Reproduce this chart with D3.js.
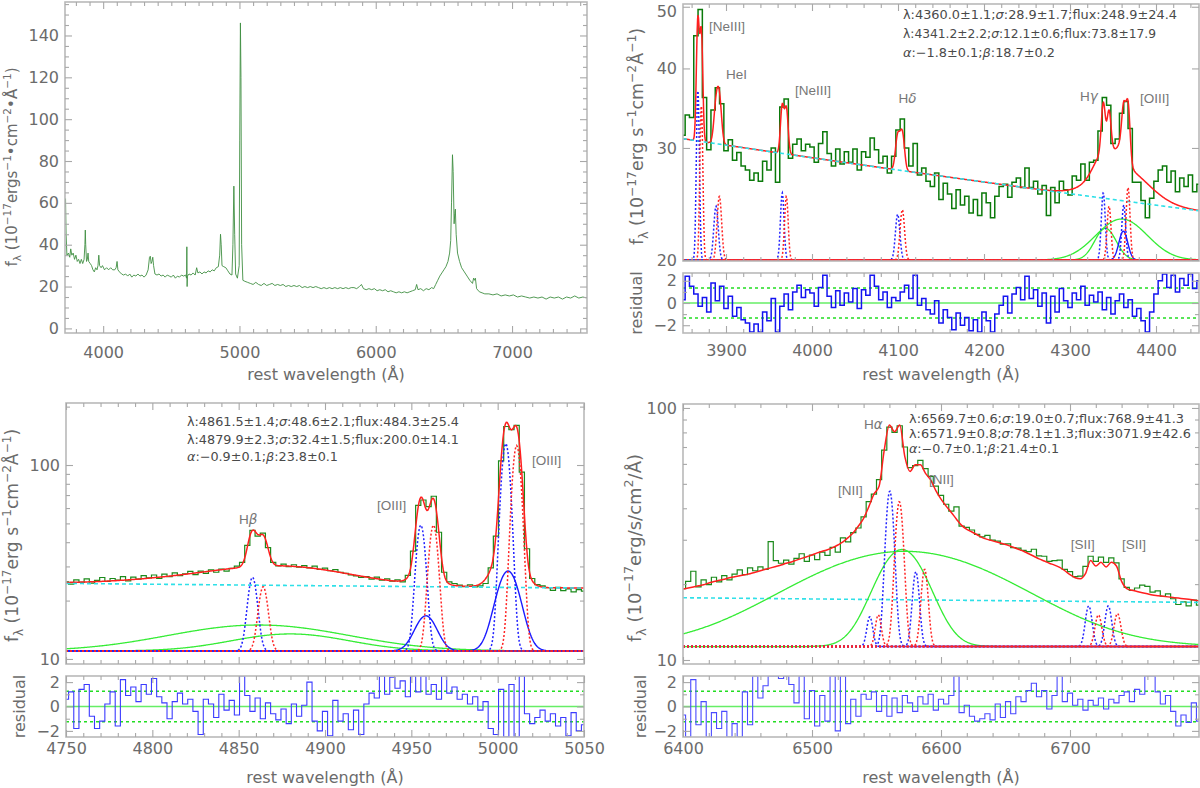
<!DOCTYPE html>
<html><head><meta charset="utf-8">
<script src="https://cdn.jsdelivr.net/npm/d3@7/dist/d3.min.js"></script>
<style>html,body{margin:0;padding:0;background:#fff}svg{display:block}</style>
</head><body>
<svg id="chart" width="1200" height="788"></svg>
<script>
// ================= DATA =================
// Overview spectrum [wavelength, flux]
const overviewSpectrum = [[3720,58],[3724,62],[3728,45],[3734,35],[3745,36],[3755,34],[3762,38],[3770,35],[3780,36],[3790,33],[3800,35],[3810,32],[3820,33],[3830,31],[3840,33],[3850,31],[3860,33],[3866,40],[3869,47],[3872,40],[3878,32],[3884,33],[3889,36],[3894,32],[3905,31],[3915,30],[3925,28],[3935,27],[3945,29],[3955,28],[3962,30],[3968,35],[3974,30],[3985,29],[3995,30],[4010,28],[4025,29],[4040,28],[4055,29],[4070,28],[4085,28],[4095,29],[4102,32],[4108,28],[4120,27],[4135,26],[4150,25.5],[4165,26],[4180,25],[4195,26],[4210,24.5],[4225,25.5],[4240,25],[4255,26],[4270,25],[4285,25.5],[4300,24.5],[4315,25.5],[4330,28],[4340,34],[4346,34.5],[4352,31],[4358,32],[4364,34],[4370,30],[4380,26],[4395,25.5],[4410,26],[4425,25],[4440,25.5],[4455,24.5],[4470,25.5],[4485,25],[4500,24.5],[4515,25.5],[4530,24],[4545,25],[4560,24.5],[4575,25.5],[4590,25],[4605,25.5],[4612,24],[4614,39],[4616,20],[4618,25],[4630,26],[4645,25.5],[4660,26.5],[4675,25.5],[4686,29],[4695,26.5],[4710,27],[4725,26],[4740,27],[4755,26.5],[4770,27.5],[4785,27],[4800,28],[4815,27.5],[4830,29],[4845,29.5],[4855,35],[4861,45],[4866,40],[4872,30],[4885,29.5],[4900,29],[4915,27.5],[4930,26],[4945,25.5],[4952,40],[4959,68],[4965,45],[4972,26],[4985,24],[4998,30],[5002,90],[5007,146],[5011,120],[5016,40],[5025,23],[5040,22.5],[5060,22],[5080,21.5],[5100,21],[5120,22],[5140,21],[5160,20.5],[5180,21.5],[5200,20.5],[5220,21],[5240,21.5],[5260,20.5],[5280,21],[5300,20.5],[5320,21],[5340,20],[5360,20.5],[5380,20],[5400,20.5],[5420,20],[5440,20.5],[5460,19.5],[5480,20],[5500,19.5],[5520,20],[5540,19.5],[5560,20],[5580,19.5],[5600,19],[5620,19.5],[5640,19],[5660,19.5],[5680,19],[5700,19.5],[5720,19],[5740,19.5],[5760,19],[5780,19.5],[5800,19],[5820,19.5],[5840,19.5],[5860,19],[5880,20],[5895,21],[5910,19],[5930,18.5],[5950,19],[5970,18.5],[5990,19],[6010,18],[6030,18.5],[6050,18],[6070,18.5],[6090,17.5],[6110,18],[6130,17.5],[6150,17],[6170,17.5],[6190,17],[6210,17.5],[6230,17],[6250,17.5],[6270,18],[6290,18.5],[6300,21],[6310,18.5],[6330,19],[6350,18],[6370,19],[6390,18.5],[6410,19.5],[6425,19],[6440,21],[6455,23],[6470,25],[6485,26.5],[6500,28],[6515,29.5],[6530,32],[6542,36],[6550,42],[6556,60],[6563,83],[6568,75],[6575,50],[6580,55],[6584,57],[6590,45],[6600,36],[6615,32],[6630,29],[6650,27],[6670,25],[6690,23],[6710,21.5],[6718,24],[6725,23],[6731,24],[6740,19],[6760,17.5],[6780,17],[6800,16.5],[6830,16.5],[6860,16],[6890,16.5],[6920,15.5],[6950,16],[6980,15.5],[7010,16],[7040,15],[7070,15.5],[7100,15],[7130,14.5],[7160,15],[7190,14.5],[7220,15],[7250,14],[7280,15],[7310,14.5],[7340,15],[7370,14],[7400,15],[7430,14.5],[7460,15.5],[7490,14.5],[7520,15],[7550,14.5]];
const overviewXTicks = [4000,5000,6000,7000];
const overviewYTicks = [0,20,40,60,80,100,120,140];

// Hgamma region (3850-4450), 5 A bins
const hgStart = 3850, hgStep = 5;
const hgFlux = [31.4,33.8,33.5,45.0,49.5,36.0,29.8,34.4,37.3,35.2,
29.7,30.9,28.7,29.5,28.1,27.7,26.7,27.4,26.6,28.6,
27.7,30.0,26.5,34.8,35.8,28.9,30.4,31.0,29.7,30.4,
30.1,28.5,30.5,31.8,29.4,28.1,29.9,28.3,29.6,28.5,
29.9,27.7,29.6,29.0,31.1,29.8,28.4,29.1,27.4,29.1,
32.0,33.3,30.0,28.1,30.5,27.2,27.9,26.6,26.1,27.4,
24.9,26.4,25.4,24.1,25.8,24.4,25.2,23.7,24.9,23.5,
25.5,24.6,23.3,25.2,26.1,26.3,25.1,26.5,26.9,26.0,
27.9,26.0,26.6,25.4,26.2,23.5,26.0,24.6,26.6,25.8,
25.3,27.1,26.7,28.3,26.7,28.5,28.7,31.9,36.0,35.0,
30.5,31.0,34.0,35.5,32.2,26.5,26.5,24.8,23.3,25.0,
26.6,27.7,28.1,26.5,27.6,25.6,26.9,26.1,27.2,25.6,
26.3];
const hgResid = [0.3,2.4,1.5,0.8,-0.3,0.5,-0.8,1.8,0.2,1.5,
-0.5,0.6,-1.2,-0.4,-1.5,-1.8,-2.6,-1.9,-2.6,-0.8,
-1.6,0.4,-2.6,-0.3,0.8,-0.6,1.0,1.6,0.5,1.2,
0.9,-0.3,1.4,2.5,0.6,-0.4,1.1,-0.2,0.9,0.1,
1.3,-0.5,1.2,0.7,2.5,1.5,0.3,1.0,-0.4,0.5,
0.2,1.0,1.6,0.4,2.5,-0.2,0.4,-0.6,-1.0,0.2,
-1.8,-0.6,-1.3,-2.4,-0.9,-2.0,-1.3,-2.5,-1.5,-2.6,
-0.8,-1.6,-2.6,-1.0,-0.2,0.6,-0.9,0.8,1.4,0.3,
2.4,0.4,1.2,-0.3,0.9,-1.8,0.6,-0.8,1.3,0.2,
-0.4,0.9,0.3,1.5,-0.2,0.7,0.1,1.0,-0.6,0.5,
-1.0,0.2,0.8,-0.4,0.3,-1.2,-0.5,-1.6,-2.6,-0.8,
0.8,2.0,2.6,1.4,2.5,1.0,2.2,1.6,2.6,1.3,
2.0];
// components: [center, sigma, peak]
const hgNarrowBlue = [[3867.3,1.6,17],[3888.4,2.5,4.3],[3965.4,2.0,5.5],[4099.6,2.5,3.6],[4338.7,2.2,5.5],[4362.5,2.2,4.4]];
const hgNarrowRed  = [[3871.3,1.6,15],[3892.3,2.5,5.2],[3970.2,2.0,5.2],[4105.0,2.5,4.0],[4345.4,2.2,4.3],[4367.5,2.2,6.0]];
const hgBroad = [[4341.2,12.1,2.43],[4360.0,28.9,3.2]];
const hgInter = [[4362.0,5.0,2.2]];
const hgContinuum = [-1.8, 18.7];
const hgBase = 20;
const hgXTicks = [3900,4000,4100,4200,4300,4400];
const hgYTicks = [20,30,40,50];
const hgNotes = ["λ:4360.0±1.1;σ:28.9±1.7;flux:248.9±24.4","λ:4341.2±2.2;σ:12.1±0.6;flux:73.8±17.9","α:−1.8±0.1;β:18.7±0.2"];
const hgLabels = [["[NeIII]",3880.2,45.8],["HeI",3900,38.5],["[NeIII]",3980.2,36.3],["Hδ",4100.6,35.3],["Hγ",4311.6,35.5],["[OIII]",4381.4,35.3]];

// Hbeta region (4750-5050), 3 A bins
const hbStart = 4750, hbStep = 3;
const hbFlux = [25.0,24.3,25.6,24.8,25.9,24.6,25.4,26.3,25.1,26.0,
25.5,26.6,25.3,26.4,25.8,26.9,26.2,27.1,26.0,27.4,
26.6,27.8,26.9,27.5,28.3,27.2,28.4,27.6,28.8,28.0,
29.1,28.4,29.3,30.1,31.5,38.5,46.0,43.0,44.5,37.5,
31.5,30.2,30.8,29.9,30.6,29.7,30.3,29.5,30.1,29.0,
29.4,28.5,28.9,28.0,27.6,27.1,26.8,26.3,26.6,25.8,
26.4,25.5,25.9,25.2,25.6,25.0,27.0,36.0,62.0,66.0,
61.0,69.0,45.0,28.0,25.0,24.5,24.0,23.6,24.1,23.5,
23.8,24.5,29.5,43.0,105.0,158.0,152.0,160.0,92.0,37.0,
26.0,24.2,23.8,23.3,22.6,23.4,22.5,23.0,22.2,22.8,
22.4];
const hbResid = [0.6,1.2,-1.8,1.4,1.8,-0.8,-1.8,-1.2,0.2,1.2,
-1.6,2.2,0.9,1.6,0.4,1.8,1.0,2.3,0.8,0.3,
-1.0,0.4,1.1,0.2,0.6,-0.4,-2.3,0.6,0.2,-0.9,
1.0,-0.3,0.5,-0.7,2.5,0.9,-0.4,0.7,-1.0,0.3,
-0.6,-1.1,-0.2,-1.4,0.2,-0.8,0.1,2.0,-1.2,-2.0,
-0.4,-2.4,0.5,-1.2,-0.6,-1.9,-0.3,-2.3,0.2,1.1,
0.7,2.5,1.0,2.4,1.5,2.1,0.8,2.5,1.2,2.5,
1.0,1.8,0.6,2.5,1.1,1.6,0.6,1.0,0.2,0.8,
-0.3,0.4,-1.8,-2.3,1.4,-2.5,1.8,-2.5,2.5,-0.6,
-1.4,-0.9,-0.3,-1.2,-0.6,-1.6,-0.9,-2.4,-0.5,-2.0,
-1.5];
const hbNarrowBlue = [[4858.0,2.6,15.4],[4955.5,2.6,38],[5004.7,2.6,118]];
const hbNarrowRed  = [[4864.2,2.6,12.6],[4962.8,2.6,38],[5011.0,2.6,115]];
const hbBroad = [[4861.5,48.6,3.97],[4879.9,32.4,2.46]];
const hbInter = [[4958.4,6.0,5.7],[5006.0,6.5,17.4]];
const hbContinuum = [-0.9, 23.0];
const hbBase = 11.0;
const hbXTicks = [4750,4800,4850,4900,4950,5000,5050];
const hbYTicks = [10,100];
const hbNotes = ["λ:4861.5±1.4;σ:48.6±2.1;flux:484.3±25.4","λ:4879.9±2.3;σ:32.4±1.5;flux:200.0±14.1","α:−0.9±0.1;β:23.8±0.1"];
const hbLabels = [["Hβ",4850.2,49.6],["[OIII]",4930.1,58.6],["[OIII]",5019.9,100]];

// Halpha region (6400-6800), 4 A bins
const haStart = 6400, haStep = 4;
const haFlux = [19.2,20.5,22.5,19.5,20.8,19.9,21.3,20.4,21.6,20.8,
21.9,22.8,21.8,23.2,22.6,23.4,22.9,29.5,24.8,24.2,
24.9,24.0,25.3,26.4,24.6,26.1,25.0,26.8,26.0,28.0,
26.8,30.5,29.4,32.0,33.4,37.0,42.5,45.5,52.0,68.0,
84.0,80.0,85.0,70.0,58.0,59.0,62.0,57.5,53.5,49.0,
45.0,41.5,39.0,40.5,34.0,33.6,32.8,31.5,30.8,31.2,
29.9,29.6,28.8,28.9,27.9,27.8,27.2,26.9,27.5,25.9,
25.8,24.6,24.8,24.9,22.9,22.4,21.4,21.5,23.5,25.8,
24.6,25.6,24.4,25.4,24.3,21.0,19.4,18.9,19.3,19.8,
19.6,18.6,18.8,17.9,18.3,17.5,16.6,17.0,16.4,17.3,
16.5];
// total fitted model (red curve)
const haModel = [19.1,19.3,19.5,19.7,19.9,20.2,20.5,20.7,20.9,21.2,
21.4,21.6,21.8,22.0,22.3,22.6,22.9,23.2,23.5,23.8,
24.2,24.5,24.9,25.3,25.7,26.1,26.6,27.0,27.4,27.9,
28.6,29.4,30.6,32.0,34.0,36.5,40.5,45.5,48.9,68.0,
85.6,80.5,85.6,64.0,56.0,59.5,59.5,55.0,51.8,47.0,
43.5,40.8,38.5,36.2,34.2,33.0,32.2,31.4,30.6,30.1,
29.7,29.3,28.9,28.5,28.0,27.5,27.0,26.4,25.8,25.2,
24.7,24.2,23.8,23.3,22.6,21.8,21.2,21.0,22.0,24.8,
23.6,24.4,23.4,24.4,23.6,20.5,19.2,18.9,18.7,18.5,
18.3,18.1,18.0,17.9,17.8,17.7,17.6,17.5,17.4,17.3,
17.2];
const haResid = [-0.7,-2.5,2.2,-1.5,0.4,-2.5,-0.5,-1.8,-0.4,-2.5,
-1.4,-2.5,1.2,-1.5,2.5,0.7,1.7,2.5,2.5,2.3,
2.5,1.8,0.3,2.5,-1.0,1.3,-1.6,0.9,-1.2,2.5,
-2.0,2.5,-1.4,0.6,-0.8,1.0,0.6,1.2,-0.4,0.9,
-0.8,0.7,-0.5,0.9,0.3,-0.4,0.8,0.2,1.0,-0.3,
0.6,0.2,0.9,2.5,-0.5,0.1,-0.8,-1.2,-1.0,-0.6,
-1.1,0.2,-0.9,0.4,-0.6,0.8,0.4,1.3,1.9,0.8,
1.3,-0.2,0.9,2.5,0.4,1.1,0.1,0.6,-0.3,0.5,
0.1,0.7,-0.2,0.6,0.3,0.9,1.2,0.4,1.4,1.0,
2.5,2.5,1.2,0.2,0.9,-0.4,-1.6,-0.7,-1.3,0.3,
-1.2];
const haNarrowBlue = [[6544.8,2.2,3.55],[6560.3,3.0,35.5],[6580.5,2.5,11.1],[6714.5,2.5,5.1],[6729.7,2.5,5.1]];
const haNarrowRed  = [[6551.4,2.2,3.8],[6567.7,3.0,31.2],[6587.3,2.5,11.6],[6722.0,2.5,3.8],[6736.8,2.5,4.0]];
const haBroad = [[6569.7,19.0,16.14],[6571.9,78.1,15.69]];
const haInter = [];
const haContinuum = [-0.7, 20.7];
const haBase = 11.3;
const haXTicks = [6400,6500,6600,6700];
const haYTicks = [10,100];
const haNotes = ["λ:6569.7±0.6;σ:19.0±0.7;flux:768.9±41.3","λ:6571.9±0.8;σ:78.1±1.3;flux:3071.9±42.6","α:−0.7±0.1;β:21.4±0.1"];
const haLabels = [["Hα",6540.3,82.5],["[NII]",6520.2,45.2],["[NII]",6590.7,50.0],["[SII]",6700.5,27.6],["[SII]",6740.3,27.6]];

const residTicks = [-2,0,2];

// ================= DRAWING =================
const svg = d3.select('#chart');
const defs = svg.append('defs');
const FONT = '"DejaVu Sans", Verdana, sans-serif';
const LFONT = '"Liberation Sans", Arial, sans-serif';
const GRAY = '#6b6b6b', FRAME = '#b9b9b9', TICK = '#a8a8a8';
const fmtD = d3.format('d');
let clipN = 0;

function clip(x0, y0, w, h) {
  const id = 'clp' + (clipN++);
  defs.append('clipPath').attr('id', id).append('rect').attr('x', x0).attr('y', y0).attr('width', w).attr('height', h);
  return `url(#${id})`;
}

function frameAxes(x, y, o) {
  const [x0, x1] = x.range(), [yb, yt] = y.range();
  const g = svg.append('g');
  g.append('rect').attr('x', x0).attr('y', yt).attr('width', x1 - x0).attr('height', yb - yt)
    .attr('fill', 'none').attr('stroke', FRAME).attr('stroke-width', 1.6);
  const mk = (fn, sc, vals, size, labels, pad, tr) => {
    const a = fn(sc).tickValues(vals).tickSize(-size).tickSizeOuter(0).tickPadding(pad)
      .tickFormat(labels ? fmtD : () => '');
    const ax = g.append('g').attr('transform', tr).call(a);
    ax.select('.domain').remove();
    ax.selectAll('line').attr('stroke', TICK).attr('stroke-width', 1.1);
    ax.selectAll('text').attr('fill', GRAY).attr('font-size', 16).attr('font-family', FONT);
    return ax;
  };
  mk(d3.axisBottom, x, o.xMajor, 7, !!o.xLabels, o.xPad || 0, `translate(0,${yb})`);
  mk(d3.axisBottom, x, o.xMinor, 4, false, 0, `translate(0,${yb})`);
  mk(d3.axisTop, x, o.xMajor, 7, false, 0, `translate(0,${yt})`);
  mk(d3.axisTop, x, o.xMinor, 4, false, 0, `translate(0,${yt})`);
  const left = mk(d3.axisLeft, y, o.yMajor, 7, true, 6, `translate(${x0},0)`);
  // keep a label that sits at the very top edge of the page inside the picture
  left.selectAll('.tick').filter(d => y(d) < 9).select('text').attr('dy', '0.6em');
  mk(d3.axisLeft, y, o.yMinor, 4, false, 0, `translate(${x0},0)`);
  mk(d3.axisRight, y, o.yMajor, 7, false, 0, `translate(${x1},0)`);
  mk(d3.axisRight, y, o.yMinor, 4, false, 0, `translate(${x1},0)`);
}

function rich(t, parts, fs) {
  let shift = 0;
  parts.forEach(p => {
    const [str, kind] = typeof p === 'string' ? [p, ''] : p;
    const target = kind === 'sup' ? -0.42 * fs : kind === 'sub' ? 0.28 * fs : 0;
    const ts = t.append('tspan').text(str).attr('dy', target - shift);
    shift = target;
    if (kind === 'sup' || kind === 'sub') ts.attr('font-size', fs * 0.7);
  });
}

function rotTitle(x, y, parts, fs) {
  const t = svg.append('text').attr('transform', `translate(${x},${y}) rotate(-90)`)
    .attr('text-anchor', 'middle').attr('font-family', FONT).attr('font-size', fs).attr('fill', GRAY);
  rich(t, parts, fs);
}

function xTitle(cx, y) {
  svg.append('text').attr('x', cx).attr('y', y).attr('text-anchor', 'middle')
    .attr('font-family', FONT).attr('font-size', 16).attr('fill', GRAY).text('rest wavelength (Å)');
}

function note(x, y, str, len, fs) {
  const t = svg.append('text').attr('x', x).attr('y', y).attr('font-family', FONT)
    .attr('font-size', fs).attr('fill', '#4a4a4a');
  str.split(/([σαβ])/).forEach(s => {
    if (!s) return;
    const ts = t.append('tspan').text(s);
    if (/[σαβ]/.test(s)) ts.attr('font-style', 'italic');
  });
  t.attr('textLength', len).attr('lengthAdjust', 'spacingAndGlyphs');
}

function lineLabel(xs, ys, lab) {
  const t = svg.append('text').attr('x', xs(lab[1])).attr('y', ys(lab[2]))
    .attr('font-family', LFONT).attr('font-size', 13.5).attr('fill', '#777');
  lab[0].split(/([αβγδ])/).forEach(s => {
    if (!s) return;
    const ts = t.append('tspan').text(s);
    if (/[αβγδ]/.test(s)) ts.attr('font-style', 'italic').attr('font-family', FONT);
  });
}

// ---------- Panel 1: overview ----------
(function () {
  const x = d3.scaleLinear().domain([3720, 7550]).range([65, 587]);
  const y = d3.scaleLinear().domain([-2.2, 156]).range([333, 2]);
  const cp = clip(65, 2, 522, 331);
  svg.append('path').datum(overviewSpectrum).attr('clip-path', cp)
    .attr('d', d3.line().x(d => x(d[0])).y(d => y(d[1])))
    .attr('fill', 'none').attr('stroke', '#3f8f42').attr('stroke-width', 0.9).attr('stroke-linejoin', 'round');
  frameAxes(x, y, {
    xMajor: overviewXTicks, xMinor: d3.range(3800, 7501, 100).filter(v => v % 1000),
    yMajor: overviewYTicks, yMinor: d3.range(5, 156, 5).filter(v => v % 20),
    xLabels: true, xPad: 14
  });
  rotTitle(17, 167, ['f', ['λ', 'sub'], ' (10', ['−17', 'sup'], 'ergs', ['−1', 'sup'], '•cm', ['−2', 'sup'], '•Å', ['−1', 'sup'], ')'], 15);
  xTitle(326, 380);
})();

// ---------- fit panels ----------
function fitPanel(p) {
  const x = d3.scaleLinear().domain(p.xDomain).range([p.left, p.right]);
  const y = d3.scaleLog().domain(p.yDomain).range([p.bottom, p.top]);
  const yr = d3.scaleLinear().domain([-p.rLim, p.rLim]).range([p.rBottom, p.rTop]);
  const gauss = (l, c) => c[2] * Math.exp(-((l - c[0]) ** 2) / (2 * c[1] * c[1]));
  const cont = l => p.cont[1] * Math.pow(l / 5100, p.cont[0]);
  const comps = [...p.blue, ...p.red, ...p.broad, ...p.inter];
  const model = l => cont(l) + d3.sum(comps, c => gauss(l, c));
  const grid = d3.range(p.xDomain[0], p.xDomain[1] + 0.25, 0.5);
  const waves = p.flux.map((_, i) => p.start + i * p.step);
  const line = d3.line().x(d => x(d[0])).y(d => y(d[1]));
  const step = d3.line().curve(d3.curveStep).x(d => x(d[0])).y(d => y(d[1]));

  const g = svg.append('g').attr('clip-path', clip(p.left, p.top, p.right - p.left, p.bottom - p.top));
  g.append('path').datum(waves.map((w, i) => [w, p.flux[i]])).attr('d', step)
    .attr('fill', 'none').attr('stroke', p.obsColor).attr('stroke-width', p.obsWidth);
  if (p.model) {
    g.append('path').datum(waves.map((w, i) => [w, p.model[i]]))
      .attr('d', d3.line().curve(d3.curveMonotoneX).x(d => x(d[0])).y(d => y(d[1])))
      .attr('fill', 'none').attr('stroke', '#ff1f1f').attr('stroke-width', 1.5);
  } else {
    g.append('path').datum(grid.map(l => [l, model(l)])).attr('d', line)
      .attr('fill', 'none').attr('stroke', '#ff1f1f').attr('stroke-width', 1.5);
  }
  g.append('path').datum(grid.map(l => [l, cont(l)])).attr('d', line)
    .attr('fill', 'none').attr('stroke', '#2fe0e8').attr('stroke-width', 1.6).attr('stroke-dasharray', '4,3');
  const comp = (c, color, dash, w) => g.append('path').datum(grid.map(l => [l, p.base + gauss(l, c)])).attr('d', line)
    .attr('fill', 'none').attr('stroke', color).attr('stroke-width', w).attr('stroke-dasharray', dash);
  p.broad.forEach(c => comp(c, '#35ec35', null, 1.3));
  p.inter.forEach(c => comp(c, '#1a1aff', null, 1.4));
  p.blue.forEach(c => comp(c, '#2323ff', '2,2', 1.5));
  p.red.forEach(c => comp(c, '#ff2424', '2,2', 1.5));

  frameAxes(x, y, {
    xMajor: p.xTicks, xMinor: p.xMinor, yMajor: p.yTicks, yMinor: p.yMinor, xLabels: false
  });

  // residual
  const rx = x.copy();
  const gr = svg.append('g').attr('clip-path', clip(p.left, p.rTop, p.right - p.left, p.rBottom - p.rTop));
  gr.append('line').attr('x1', p.left).attr('x2', p.right).attr('y1', yr(0)).attr('y2', yr(0))
    .attr('stroke', '#66ee66').attr('stroke-width', 1.6);
  [p.rDot, -p.rDot].forEach(v => gr.append('line').attr('x1', p.left).attr('x2', p.right)
    .attr('y1', yr(v)).attr('y2', yr(v)).attr('stroke', '#22dd22').attr('stroke-width', 1.5).attr('stroke-dasharray', '3,3'));
  gr.append('path').datum(waves.map((w, i) => [w, p.resid[i]]))
    .attr('d', d3.line().curve(d3.curveStep).x(d => rx(d[0])).y(d => yr(d[1])))
    .attr('fill', 'none').attr('stroke', p.resColor).attr('stroke-width', p.resWidth);
  frameAxes(rx, yr, {
    xMajor: p.xTicks, xMinor: p.xMinor, yMajor: residTicks, yMinor: [-1, 1], xLabels: true, xPad: p.xPad
  });

  rotTitle(p.titleX, (p.top + p.bottom) / 2 + p.titleDy, p.titleParts, p.titleFs);
  svg.append('text').attr('transform', `translate(${p.resTitleX},${(p.rTop + p.rBottom) / 2}) rotate(-90)`)
    .attr('text-anchor', 'middle').attr('font-family', FONT).attr('font-size', 16).attr('fill', GRAY).text('residual');
  xTitle((p.left + p.right) / 2, p.xTitleY);
  p.notes.forEach((s, i) => note(p.noteX, p.noteY[i], s, p.noteLen[i], p.noteFs));
  p.labels.forEach(l => lineLabel(x, y, l));
}

fitPanel({
  xDomain: [3850, 4450], yDomain: [19.93, 50.5], left: 683, right: 1199, top: 4, bottom: 261,
  rTop: 273, rBottom: 333, rLim: 2.7, rDot: 1.35,
  start: hgStart, step: hgStep, flux: hgFlux, resid: hgResid,
  blue: hgNarrowBlue, red: hgNarrowRed, broad: hgBroad, inter: hgInter, cont: hgContinuum, base: hgBase,
  xTicks: hgXTicks, xMinor: d3.range(3860, 4450, 20).filter(v => v % 100), yTicks: hgYTicks, yMinor: [],
  obsColor: '#0b7a0b', obsWidth: 1.5, resColor: '#1414f0', resWidth: 1.5, xPad: 12,
  titleX: 643, titleDy: 4, titleFs: 17.5,
  titleParts: ['f', ['λ', 'sub'], ' (10', ['−17', 'sup'], 'erg s', ['−1', 'sup'], 'cm', ['−2', 'sup'], 'Å', ['−1', 'sup'], ')'],
  resTitleX: 642, xTitleY: 380,
  notes: hgNotes, noteX: 903, noteY: [19, 37.5, 56.5], noteLen: [274, 253, 152], noteFs: 12.6, labels: hgLabels
});

fitPanel({
  xDomain: [4750, 5050], yDomain: [9.42, 208.8], left: 66, right: 584, top: 403, bottom: 664,
  rTop: 676, rBottom: 737, rLim: 2.5, rDot: 1.25,
  start: hbStart, step: hbStep, flux: hbFlux, resid: hbResid,
  blue: hbNarrowBlue, red: hbNarrowRed, broad: hbBroad, inter: hbInter, cont: hbContinuum, base: hbBase,
  xTicks: hbXTicks, xMinor: d3.range(4760, 5050, 10).filter(v => v % 50), yTicks: hbYTicks,
  yMinor: [20, 30, 40, 50, 60, 70, 80, 90, 200],
  obsColor: '#1b8a1b', obsWidth: 1.2, resColor: '#3b3bff', resWidth: 1.1, xPad: 6,
  titleX: 18, titleDy: 2, titleFs: 17.2,
  titleParts: ['f', ['λ', 'sub'], ' (10', ['−17', 'sup'], 'erg s', ['−1', 'sup'], 'cm', ['−2', 'sup'], 'Å', ['−1', 'sup'], ')'],
  resTitleX: 25, xTitleY: 783,
  notes: hbNotes, noteX: 187, noteY: [426, 444, 461], noteLen: [272, 272, 151], noteFs: 12.4, labels: hbLabels
});

fitPanel({
  xDomain: [6400, 6800], yDomain: [9.64, 103.7], left: 683, right: 1199, top: 404, bottom: 664,
  rTop: 676, rBottom: 737, rLim: 2.5, rDot: 1.25,
  start: haStart, step: haStep, flux: haFlux, resid: haResid, model: haModel,
  blue: haNarrowBlue, red: haNarrowRed, broad: haBroad, inter: haInter, cont: haContinuum, base: haBase,
  xTicks: haXTicks, xMinor: d3.range(6420, 6800, 20).filter(v => v % 100), yTicks: haYTicks,
  yMinor: [20, 30, 40, 50, 60, 70, 80, 90],
  obsColor: '#1b8a1b', obsWidth: 1.2, resColor: '#4a4aff', resWidth: 1.1, xPad: 6,
  titleX: 641, titleDy: 14, titleFs: 18,
  titleParts: ['f', ['λ', 'sub'], ' (10', ['−17', 'sup'], 'erg/s/cm', ['2', 'sup'], '/Å)'],
  resTitleX: 646, xTitleY: 783,
  notes: haNotes, noteX: 909, noteY: [423, 438, 453], noteLen: [275, 282, 150], noteFs: 11.6, labels: haLabels
});
</script>
</body></html>
